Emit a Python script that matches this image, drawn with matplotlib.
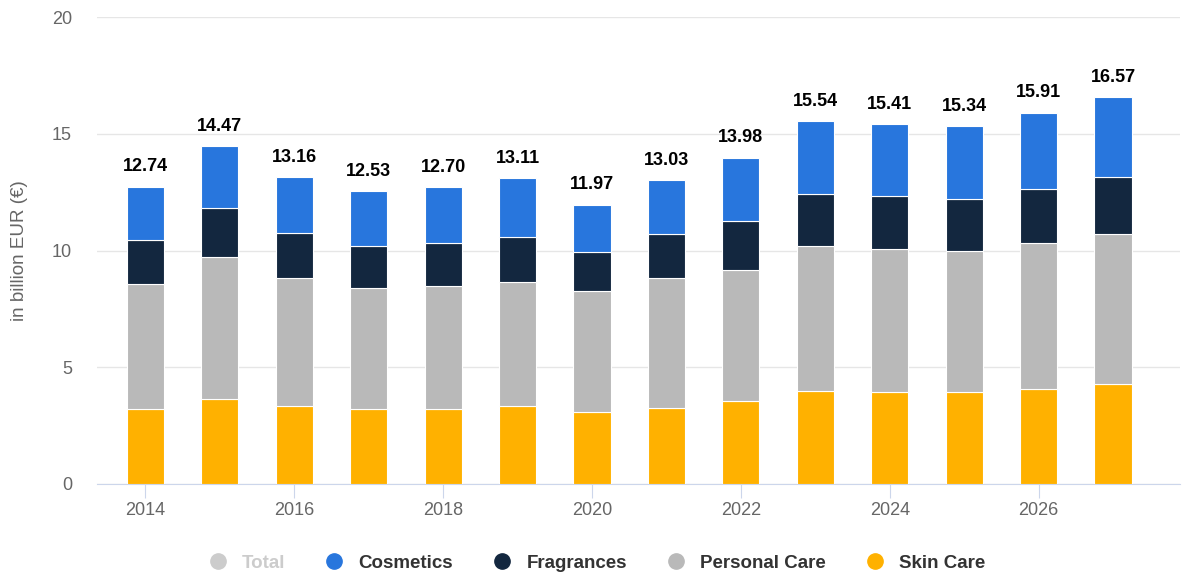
import matplotlib
matplotlib.use("Agg")
import matplotlib.pyplot as plt
from matplotlib.lines import Line2D
import numpy as np

plt.rcParams['font.family'] = ['Liberation Sans', 'DejaVu Sans']

years = [2014, 2015, 2016, 2017, 2018, 2019, 2020, 2021, 2022, 2023, 2024, 2025, 2026, 2027]
totals = [12.74, 14.47, 13.16, 12.53, 12.70, 13.11, 11.97, 13.03, 13.98, 15.54, 15.41, 15.34, 15.91, 16.57]
skin_care = [3.21, 3.64, 3.34, 3.21, 3.21, 3.34, 3.08, 3.27, 3.55, 3.98, 3.93, 3.93, 4.05, 4.28]
personal_care = [5.36, 6.08, 5.48, 5.18, 5.27, 5.31, 5.19, 5.54, 5.61, 6.21, 6.12, 6.05, 6.29, 6.43]
fragrances = [1.88, 2.10, 1.93, 1.80, 1.84, 1.93, 1.67, 1.88, 2.10, 2.23, 2.28, 2.21, 2.28, 2.42]
cosmetics = [round(t - s - p - f, 2) for t, s, p, f in zip(totals, skin_care, personal_care, fragrances)]

series = [
    ("Skin Care", skin_care, "#ffb100"),
    ("Personal Care", personal_care, "#b9b9b9"),
    ("Fragrances", fragrances, "#13273f"),
    ("Cosmetics", cosmetics, "#2876dd"),
]

fig = plt.figure(figsize=(11.89, 5.76), dpi=100)
ax = fig.add_axes([97/1189, 92/576, (1180-97)/1189, (484-17)/576])

x = np.array(years)
bottom = np.zeros(len(years))
for name, vals, col in series:
    ax.bar(x, vals, width=0.5, bottom=bottom, color=col, edgecolor="white", linewidth=0.8, zorder=3)
    bottom += np.array(vals)

for xi, t in zip(x, totals):
    ax.annotate(f"{t:.2f}", (xi, t), xytext=(0, 8), textcoords="offset points",
                ha="center", va="bottom", fontsize=13, fontweight="bold", color="#000000")

ax.set_ylim(0, 20)
ax.set_xlim(2013.35, 2027.9)
ax.set_yticks([0, 5, 10, 15, 20])
ax.set_xticks(years[::2])
ax.grid(axis="y", color="#e6e6e6", linewidth=1, zorder=0)
for s in ["top", "right", "left"]:
    ax.spines[s].set_visible(False)
ax.spines["bottom"].set_color("#ccd6eb")
ax.tick_params(axis="y", length=0, labelsize=13, labelcolor="#666666", pad=18)
ax.tick_params(axis="x", length=10, color="#ccd6eb", labelsize=13, labelcolor="#666666", pad=3)
ax.set_ylabel("in billion EUR (€)", fontsize=13.5, color="#666666", labelpad=17)

handles = [
    Line2D([], [], marker="o", linestyle="", markersize=11, color="#cccccc"),
    Line2D([], [], marker="o", linestyle="", markersize=11, color="#2876dd"),
    Line2D([], [], marker="o", linestyle="", markersize=11, color="#13273f"),
    Line2D([], [], marker="o", linestyle="", markersize=11, color="#b9b9b9"),
    Line2D([], [], marker="o", linestyle="", markersize=11, color="#ffb100"),
]
labels = ["Total", "Cosmetics", "Fragrances", "Personal Care", "Skin Care"]
leg = fig.legend(handles, labels, loc="center", bbox_to_anchor=(0.498, 1 - 563/576), ncol=5,
                 frameon=False, handletextpad=0.3, columnspacing=1.6, fontsize=13.5)
for i, t in enumerate(leg.get_texts()):
    t.set_fontweight("bold")
    t.set_color("#cccccc" if i == 0 else "#333333")

fig.savefig("out.png", dpi=100)
